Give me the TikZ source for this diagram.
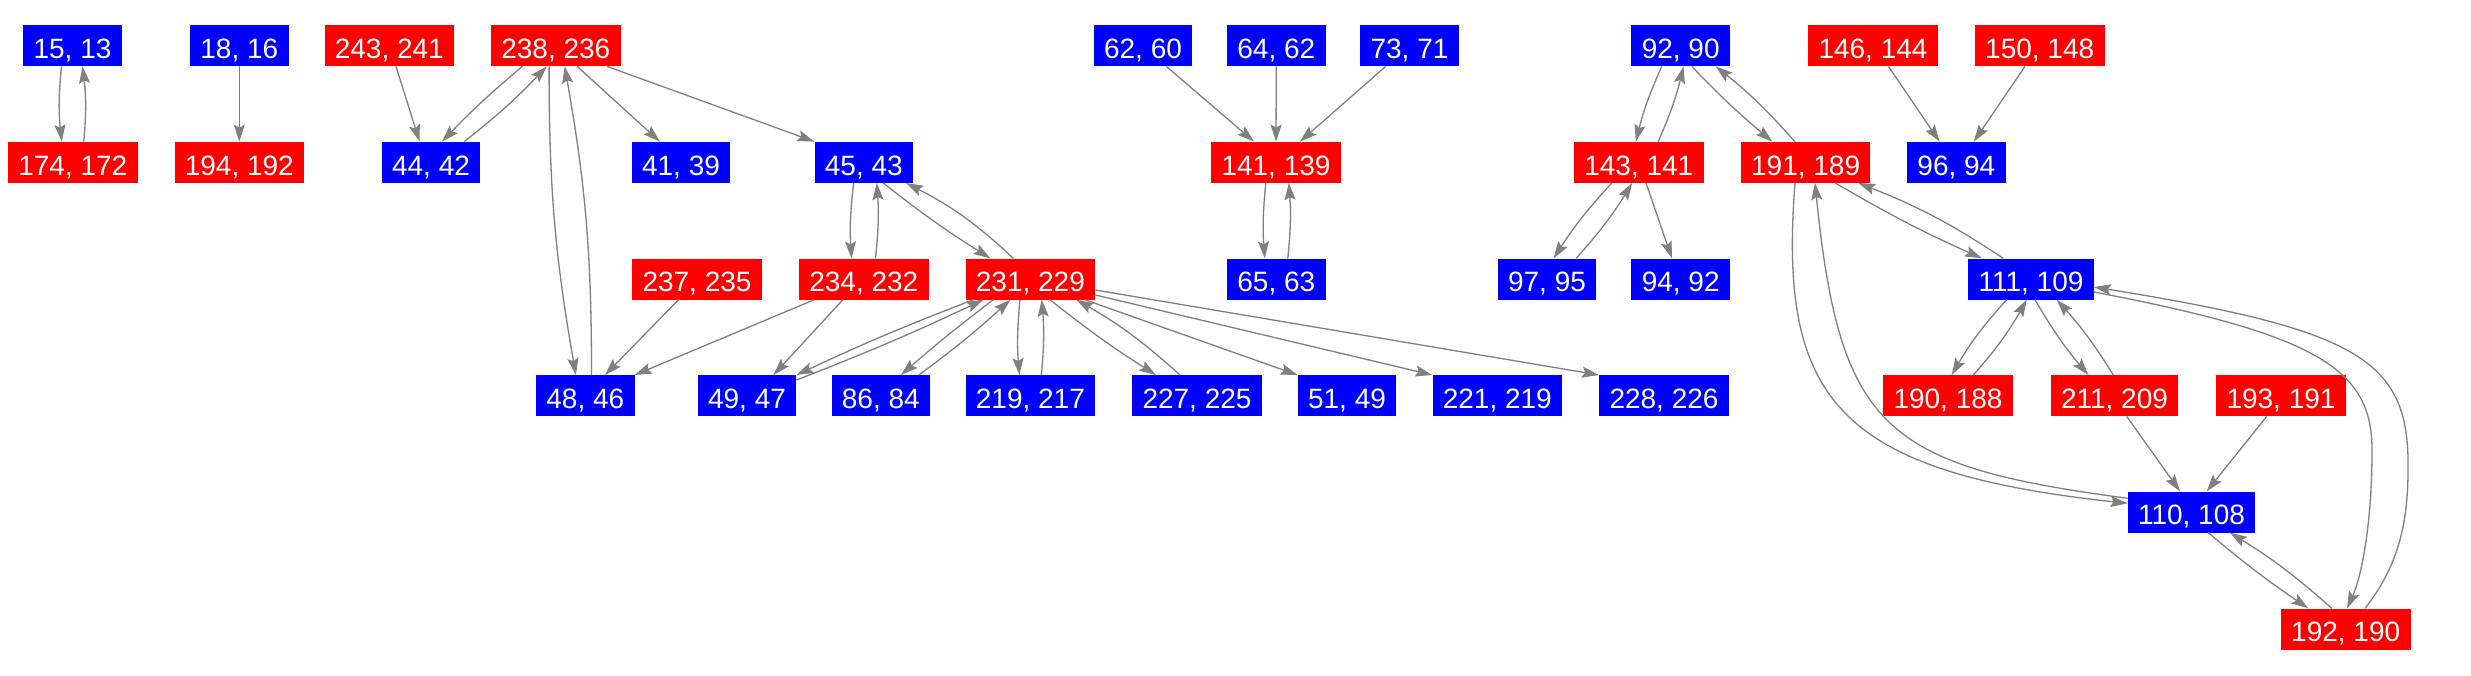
\documentclass[tikz,border=0pt]{standalone}
\usepackage{fontspec}
\setmainfont{Liberation Sans}
\usetikzlibrary{arrows.meta}
\definecolor{edgegray}{RGB}{128,128,128}
\definecolor{nblue}{RGB}{0,0,255}
\definecolor{nred}{RGB}{255,0,0}
\begin{document}
\begin{tikzpicture}[x=1pt,y=1pt,
  box/.style={rectangle, inner xsep=10.3pt, inner ysep=0pt, minimum height=41pt,
    text height=25.4pt, text depth=0pt, text=white, font=\fontsize{28}{30}\selectfont},
  bn/.style={box, fill=nblue},
  rn/.style={box, fill=nred},
  e/.style={draw=edgegray, line width=1.3pt, -{Stealth[length=17pt,width=11pt,inset=3pt]}}]
\fill[white] (0,0) rectangle (2471,-675);
\useasboundingbox (0,0) rectangle (2471,-675);
% row 1
\node[bn] (n1513) at (72.5,-45.7) {15, 13};
\node[bn] (n1816) at (239.3,-45.7) {18, 16};
\node[rn] (n243) at (389.3,-45.7) {243, 241};
\node[rn] (n238) at (555.8,-45.7) {238, 236};
\node[bn] (n6260) at (1143,-45.7) {62, 60};
\node[bn] (n6462) at (1276.3,-45.7) {64, 62};
\node[bn] (n7371) at (1409.5,-45.7) {73, 71};
\node[bn] (n9290) at (1680.7,-45.7) {92, 90};
\node[rn] (n146) at (1873,-45.7) {146, 144};
\node[rn] (n150) at (2039.7,-45.7) {150, 148};
% row 2
\node[rn] (n174) at (72.8,-162.3) {174, 172};
\node[rn] (n194) at (239.3,-162.3) {194, 192};
\node[bn] (n4442) at (431,-162.3) {44, 42};
\node[bn] (n4139) at (681,-162.3) {41, 39};
\node[bn] (n4543) at (863.8,-162.3) {45, 43};
\node[rn] (n141) at (1276,-162.3) {141, 139};
\node[rn] (n143) at (1638.8,-162.3) {143, 141};
\node[rn] (n191) at (1805.6,-162.3) {191, 189};
\node[bn] (n9694) at (1956.4,-162.3) {96, 94};
% row 3
\node[rn] (n237) at (697,-279) {237, 235};
\node[rn] (n234) at (863.8,-279) {234, 232};
\node[rn] (n231) at (1030.4,-279) {231, 229};
\node[bn] (n6563) at (1276.3,-279) {65, 63};
\node[bn] (n9795) at (1547,-279) {97, 95};
\node[bn] (n9492) at (1680.7,-279) {94, 92};
\node[bn] (n111) at (2031,-279) {111, 109};
% row 4
\node[bn] (n4846) at (585.3,-395.7) {48, 46};
\node[bn] (n4947) at (747,-395.7) {49, 47};
\node[bn] (n8684) at (880.8,-395.7) {86, 84};
\node[bn] (n219) at (1030.4,-395.7) {219, 217};
\node[bn] (n227) at (1197,-395.7) {227, 225};
\node[bn] (n5149) at (1347,-395.7) {51, 49};
\node[bn] (n221) at (1497.3,-395.7) {221, 219};
\node[bn] (n228) at (1664,-395.7) {228, 226};
\node[rn] (n190) at (1948,-395.7) {190, 188};
\node[rn] (n211) at (2114.5,-395.7) {211, 209};
\node[rn] (n193) at (2281,-395.7) {193, 191};
% rows 5, 6
\node[bn] (n110) at (2191.5,-512) {110, 108};
\node[rn] (n192) at (2345.7,-629) {192, 190};
% via points of long curves
\coordinate (vin) at (2372,-450);
\coordinate (vout) at (2408,-470);

% edges
\draw[e] ([xshift=-11pt]n1513.south) to[bend right=6] ([xshift=-11pt]n174.north);
\draw[e] ([xshift=11pt]n174.north) to[bend right=6] ([xshift=10pt]n1513.south);
\draw[e] (n1816.south) -- (n194.north);
\draw[e] ([xshift=6.7pt]n243.south) -- ([xshift=-11.4pt]n4442.north);
\draw[e] ([xshift=-33.5pt]n238.south) to[bend right=3] ([xshift=11pt]n4442.north);
\draw[e] ([xshift=33.3pt]n4442.north) to[bend right=4] ([xshift=-9pt]n238.south);
\draw[e] ([xshift=21.4pt]n238.south) -- ([xshift=-21.2pt]n4139.north);
\draw[e] ([xshift=51.3pt]n238.south) -- (n4543.north west);
\draw[e] ([xshift=-6.7pt]n238.south) to[bend right=5] ([xshift=-9.4pt]n4846.north);
\draw[e] ([xshift=6.2pt]n4846.north) to[bend right=5] ([xshift=8.9pt]n238.south);
\draw[e] ([xshift=-18.4pt]n237.south) -- ([xshift=19.7pt]n4846.north);
\draw[e] ([xshift=-49.5pt]n234.south) -- (n4846.north east);
\draw[e] ([xshift=-10.2pt]n4543.south) to[bend right=5] ([xshift=-12.3pt]n234.north);
\draw[e] ([xshift=11.7pt]n234.north) to[bend right=5] ([xshift=13pt]n4543.south);
\draw[e] ([xshift=19.4pt]n4543.south) to[bend right=3] ([xshift=-40.1pt]n231.north);
\draw[e] ([xshift=-17.1pt]n231.north) to[bend right=8] ([xshift=42.3pt]n4543.south);
\draw[e] ([xshift=-20.9pt]n234.south) -- ([xshift=26.5pt]n4947.north);
\draw[e] ([xshift=-57pt]n231.south) to[bend right=2] (n4947.north east);
\draw[e] ([yshift=15.7pt]n4947.east) to[bend right=2] ([xshift=-47pt]n231.south);
\draw[e] ([xshift=-37pt]n231.south) to[bend right=2] ([xshift=20.2pt]n8684.north);
\draw[e] ([xshift=38pt]n8684.north) to[bend right=3] ([xshift=-20pt]n231.south);
\draw[e] ([xshift=-10.4pt]n231.south) to[bend right=5] ([xshift=-11pt]n219.north);
\draw[e] ([xshift=11pt]n219.north) to[bend right=5] ([xshift=11.3pt]n231.south);
\draw[e] ([xshift=19.6pt]n231.south) to[bend right=3] ([xshift=-41pt]n227.north);
\draw[e] ([xshift=-17pt]n227.north) to[bend right=6] ([xshift=46pt]n231.south);
\draw[e] ([xshift=54.3pt]n231.south) -- (n5149.north west);
\draw[e] ([yshift=-16pt]n231.east) -- (n221.north west);
\draw[e] ([yshift=-11pt]n231.east) -- (n228.north west);
\draw[e] ([xshift=23.3pt]n6260.south) -- ([xshift=-22pt]n141.north);
\draw[e] (n6462.south) -- (n141.north);
\draw[e] ([xshift=-23.8pt]n7371.south) -- ([xshift=24pt]n141.north);
\draw[e] ([xshift=-10.2pt]n141.south) to[bend right=5] ([xshift=-11.5pt]n6563.north);
\draw[e] ([xshift=11.5pt]n6563.north) to[bend right=5] ([xshift=12.8pt]n141.south);
\draw[e] ([xshift=-19pt]n9290.south) to[bend right=5] ([xshift=-3pt]n143.north);
\draw[e] ([xshift=19.4pt]n143.north) to[bend right=5] ([xshift=2.8pt]n9290.south);
\draw[e] ([xshift=11pt]n9290.south) to[bend right=3] ([xshift=-33.3pt]n191.north);
\draw[e] ([xshift=-10.8pt]n191.north) to[bend right=5] ([xshift=35pt]n9290.south);
\draw[e] ([xshift=15.4pt]n146.south) -- ([xshift=-16.8pt]n9694.north);
\draw[e] ([xshift=-14.7pt]n150.south) -- ([xshift=17.4pt]n9694.north);
\draw[e] ([xshift=-27pt]n143.south) to[bend right=5] ([xshift=6.7pt]n9795.north);
\draw[e] ([xshift=29.2pt]n9795.north) to[bend right=5] ([xshift=-6.6pt]n143.south);
\draw[e] ([xshift=7.2pt]n143.south) -- ([xshift=-8.8pt]n9492.north);
\draw[e] ([xshift=29.6pt]n191.south) to[bend right=3] ([xshift=-49.3pt]n111.north);
\draw[e] ([xshift=-27.7pt]n111.north) to[bend right=6] ([xshift=52.7pt]n191.south);
\draw[e] ([xshift=-10.6pt]n191.south) .. controls (1778,-400) and (1838,-472) .. ([yshift=8.7pt]n110.west);
\draw[e] ([yshift=13.7pt]n110.west) .. controls (1885,-466) and (1840,-430) .. ([xshift=9.4pt]n191.south);
\draw[e] ([xshift=-24.3pt]n111.south) to[bend right=6] ([xshift=3.7pt]n190.north);
\draw[e] ([xshift=25.3pt]n190.north) to[bend right=6] ([xshift=-4.3pt]n111.south);
\draw[e] ([xshift=4pt]n111.south) to[bend right=5] ([xshift=-26.2pt]n211.north);
\draw[e] ([xshift=-1.2pt]n211.north) to[bend right=5] ([xshift=25.7pt]n111.south);
\draw[e] ([xshift=12.2pt]n211.south) -- ([xshift=-11.5pt]n110.north);
\draw[e] ([xshift=-14.3pt]n193.south) -- ([xshift=15.2pt]n110.north);
\draw[e] ([xshift=16.8pt]n110.south) to[bend right=3] ([xshift=-37.4pt]n192.north);
\draw[e] ([xshift=-14pt]n192.north) to[bend right=5] ([xshift=38.5pt]n110.south);
\draw[e] ([yshift=-13pt]n111.east) .. controls (2320,-335) and (2372,-370) .. (vin)
   .. controls (2372,-530) and (2360,-580) .. ([xshift=1.3pt]n192.north);
\draw[e] ([xshift=19.3pt]n192.north) .. controls (2395,-570) and (2408,-530) .. (vout)
   .. controls (2410,-360) and (2360,-330) .. ([yshift=-8pt]n111.east);
\end{tikzpicture}
\end{document}
